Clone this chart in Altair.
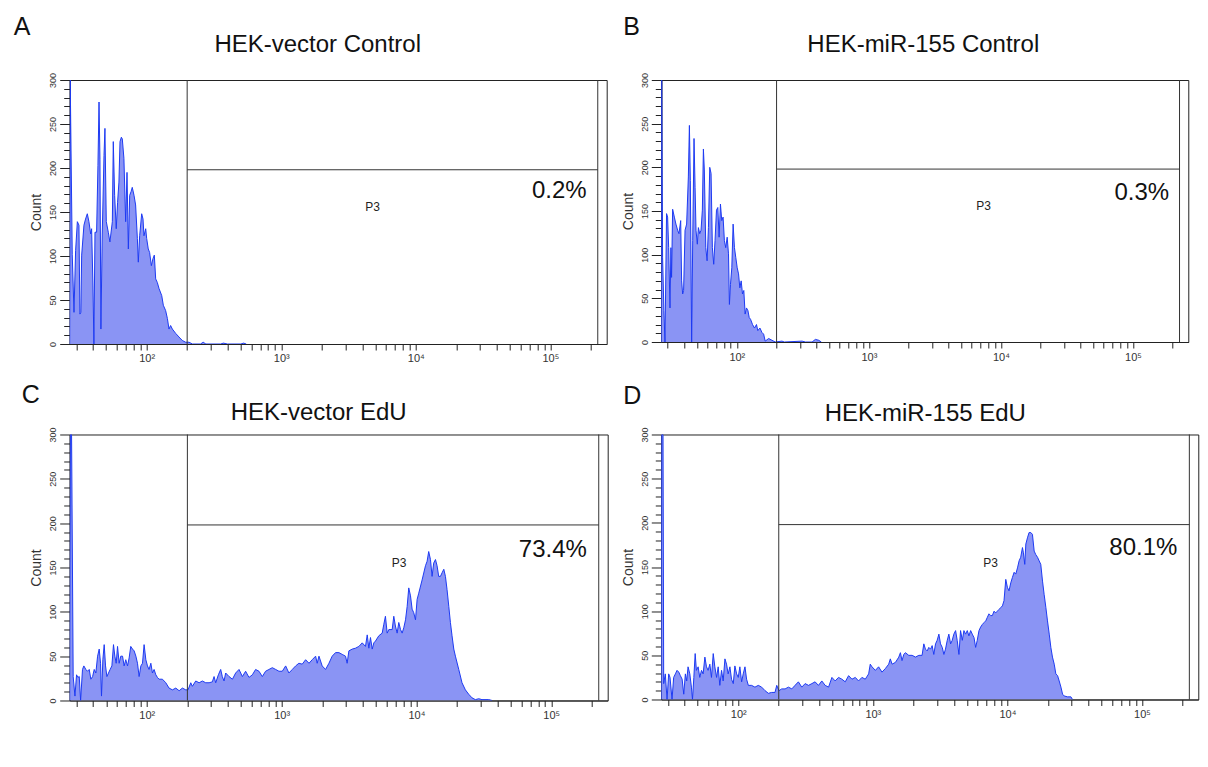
import altair as alt
import numpy as np
import pandas as pd

FONT = "Liberation Sans"
FILL = "#8a94f4"
LINE = "#1d3af2"
INK = "#222222"
GATE = "#333333"

TITLES = ["HEK-vector Control", "HEK-miR-155 Control", "HEK-vector EdU", "HEK-miR-155 EdU"]
LETTERS = ["A", "B", "C", "D"]
PERCENTS = ["0.2%", "0.3%", "73.4%", "80.1%"]
# label positions in data units (log10 intensity, count)
P3_LOG = [3.678, 3.868, 3.872, 3.875]
P3_COUNT = [151, 151, 150, 150]
PCT_LOG = [5.269, 5.273, 5.264, 5.263]
PCT_COUNT = [166, 163, 162, 164]

GATE_LOW = 200
GATE_HIGH = 225000
GATE_LEVEL = 198
X_MIN = 26.8
X_MAX = 262144

X_TICKS = [30, 40, 50, 60, 70, 80, 90,
           100, 200, 300, 400, 500, 600, 700, 800, 900,
           1000, 2000, 3000, 4000, 5000, 6000, 7000, 8000, 9000,
           10000, 20000, 30000, 40000, 50000, 60000, 70000, 80000, 90000,
           100000, 200000]
Y_TICKS = [0, 10, 20, 30, 40, 50, 60, 70, 80, 90, 100, 110, 120, 130, 140, 150,
           160, 170, 180, 190, 200, 210, 220, 230, 240, 250, 260, 270, 280, 290, 300]

# histograms: (log10 fluorescence, count)
A_HIST = [(1.428, 0), (1.432, 300), (1.447, 102), (1.460, 36), (1.472, 106), (1.485, 139),
          (1.497, 135), (1.504, 34), (1.511, 36), (1.517, 101), (1.534, 135), (1.546, 142),
          (1.559, 148), (1.571, 139), (1.584, 125), (1.591, 131), (1.601, 67), (1.608, 0),
          (1.616, 127), (1.628, 127), (1.638, 203), (1.646, 275), (1.653, 210), (1.660, 17),
          (1.670, 125), (1.683, 214), (1.690, 245), (1.700, 139), (1.715, 127), (1.727, 116),
          (1.745, 139), (1.752, 230), (1.762, 169), (1.774, 131), (1.784, 161), (1.794, 184),
          (1.802, 230), (1.812, 235), (1.819, 233), (1.831, 211), (1.844, 139), (1.854, 195),
          (1.864, 108), (1.874, 169), (1.884, 173), (1.893, 178), (1.906, 169), (1.918, 158),
          (1.931, 120), (1.938, 93), (1.948, 123), (1.963, 148), (1.973, 142), (1.980, 123),
          (1.993, 131), (2.000, 120), (2.012, 108), (2.022, 104), (2.035, 89), (2.047, 97),
          (2.057, 101), (2.067, 74), (2.079, 70), (2.092, 63), (2.112, 55), (2.124, 44),
          (2.141, 38), (2.154, 29), (2.166, 17), (2.178, 21), (2.191, 17), (2.216, 12),
          (2.240, 8), (2.265, 4), (2.290, 2), (2.315, 2), (2.340, 0), (2.400, 0), (2.420, 2),
          (2.440, 0), (2.550, 0), (2.570, 1), (2.600, 0), (2.700, 0), (2.720, 1), (2.740, 0)]

B_HIST = [(1.428, 0), (1.431, 300), (1.438, 97), (1.448, 36), (1.456, 0), (1.468, 147),
          (1.476, 143), (1.484, 108), (1.494, 39), (1.501, 108), (1.506, 74), (1.514, 152),
          (1.527, 143), (1.539, 135), (1.552, 128), (1.562, 124), (1.575, 139), (1.582, 70),
          (1.590, 55), (1.597, 59), (1.608, 128), (1.620, 135), (1.633, 189), (1.641, 248),
          (1.648, 185), (1.658, 0), (1.666, 116), (1.676, 233), (1.684, 177), (1.691, 128),
          (1.701, 112), (1.709, 131), (1.719, 124), (1.729, 128), (1.739, 151), (1.747, 221),
          (1.754, 197), (1.765, 108), (1.775, 93), (1.785, 131), (1.795, 200), (1.805, 193),
          (1.815, 108), (1.825, 89), (1.835, 116), (1.846, 151), (1.856, 154), (1.866, 120),
          (1.876, 158), (1.886, 139), (1.896, 143), (1.906, 116), (1.916, 108), (1.927, 120),
          (1.937, 101), (1.944, 43), (1.952, 66), (1.962, 85), (1.972, 135), (1.982, 108),
          (1.992, 97), (2.003, 85), (2.013, 78), (2.023, 62), (2.033, 70), (2.043, 55),
          (2.053, 59), (2.063, 32), (2.073, 39), (2.084, 36), (2.094, 28), (2.104, 26),
          (2.119, 20), (2.134, 16), (2.149, 20), (2.159, 13), (2.175, 16), (2.190, 11),
          (2.203, 9), (2.215, 1), (2.241, 4), (2.266, 2), (2.291, 0), (2.342, 1), (2.360, 0),
          (2.494, 1), (2.520, 0), (2.570, 0), (2.595, 3), (2.620, 2), (2.640, 0)]

C_HIST = [(1.428, 0), (1.433, 300), (1.442, 300), (1.454, 27), (1.467, 5), (1.479, 29),
          (1.489, 26), (1.499, 27), (1.509, 0), (1.523, 35), (1.533, 39), (1.548, 35),
          (1.560, 33), (1.573, 35), (1.585, 24), (1.598, 27), (1.610, 35), (1.622, 31),
          (1.635, 50), (1.647, 58), (1.657, 42), (1.664, 5), (1.674, 46), (1.684, 63),
          (1.694, 39), (1.704, 27), (1.716, 31), (1.728, 35), (1.741, 39), (1.753, 63),
          (1.763, 50), (1.773, 42), (1.783, 61), (1.795, 42), (1.807, 50), (1.820, 50),
          (1.832, 39), (1.844, 46), (1.857, 39), (1.869, 48), (1.881, 61), (1.894, 58),
          (1.906, 56), (1.919, 50), (1.931, 42), (1.943, 27), (1.956, 39), (1.968, 42),
          (1.980, 63), (1.993, 46), (2.005, 39), (2.017, 35), (2.030, 42), (2.042, 31),
          (2.054, 35), (2.067, 29), (2.079, 26), (2.091, 24), (2.116, 24), (2.141, 20),
          (2.165, 14), (2.190, 12), (2.215, 14), (2.240, 11), (2.264, 14), (2.289, 12),
          (2.306, 12), (2.326, 20), (2.338, 16), (2.363, 22), (2.388, 20), (2.412, 22),
          (2.437, 20), (2.462, 20), (2.486, 21), (2.499, 27), (2.511, 20), (2.531, 29),
          (2.548, 35), (2.560, 27), (2.573, 22), (2.585, 31), (2.610, 27), (2.635, 24),
          (2.659, 31), (2.684, 35), (2.709, 27), (2.733, 33), (2.758, 26), (2.783, 29),
          (2.807, 35), (2.832, 33), (2.857, 27), (2.881, 33), (2.906, 35), (2.931, 37),
          (2.956, 35), (2.980, 33), (3.005, 33), (3.030, 39), (3.054, 31), (3.079, 35),
          (3.104, 39), (3.128, 42), (3.153, 41), (3.178, 46), (3.203, 42), (3.227, 46),
          (3.252, 50), (3.264, 42), (3.277, 50), (3.301, 39), (3.326, 35), (3.351, 42),
          (3.375, 50), (3.400, 54), (3.425, 54), (3.449, 52), (3.474, 50), (3.486, 42),
          (3.499, 56), (3.524, 58), (3.548, 59), (3.573, 61), (3.598, 65), (3.622, 61),
          (3.635, 74), (3.647, 59), (3.659, 71), (3.672, 58), (3.684, 65), (3.696, 67),
          (3.721, 73), (3.746, 76), (3.758, 86), (3.770, 95), (3.783, 76), (3.795, 80),
          (3.820, 80), (3.832, 95), (3.844, 84), (3.857, 76), (3.869, 88), (3.882, 80),
          (3.894, 76), (3.906, 82), (3.919, 91), (3.931, 106), (3.943, 127), (3.956, 118),
          (3.968, 103), (3.980, 99), (3.993, 91), (4.005, 114), (4.017, 121), (4.042, 136),
          (4.067, 152), (4.079, 157), (4.091, 168), (4.104, 159), (4.116, 140), (4.128, 155),
          (4.141, 159), (4.153, 152), (4.165, 140), (4.178, 140), (4.190, 144), (4.203, 148),
          (4.215, 140), (4.227, 125), (4.240, 106), (4.252, 88), (4.264, 73), (4.277, 58),
          (4.289, 50), (4.314, 35), (4.338, 20), (4.363, 12), (4.388, 7), (4.412, 3),
          (4.437, 1), (4.462, 2), (4.486, 1), (4.536, 1), (4.561, 0)]

D_HIST = [(1.428, 0), (1.431, 300), (1.441, 300), (1.446, 18), (1.458, 29), (1.471, 0),
          (1.483, 29), (1.493, 25), (1.508, 0), (1.520, 25), (1.533, 29), (1.545, 33),
          (1.558, 31), (1.570, 27), (1.583, 23), (1.595, 6), (1.607, 29), (1.617, 21),
          (1.627, 37), (1.640, 29), (1.652, 14), (1.660, 0), (1.670, 25), (1.680, 52),
          (1.689, 33), (1.702, 37), (1.714, 25), (1.727, 33), (1.739, 29), (1.752, 48),
          (1.764, 37), (1.776, 33), (1.789, 40), (1.801, 25), (1.814, 52), (1.826, 37),
          (1.839, 25), (1.851, 37), (1.863, 16), (1.876, 33), (1.888, 21), (1.901, 46),
          (1.913, 40), (1.925, 29), (1.938, 37), (1.950, 23), (1.963, 18), (1.975, 38),
          (1.988, 29), (2.000, 25), (2.012, 37), (2.025, 20), (2.037, 29), (2.050, 37),
          (2.062, 23), (2.075, 16), (2.099, 16), (2.124, 14), (2.149, 16), (2.174, 14),
          (2.199, 10), (2.224, 7), (2.248, 8), (2.273, 8), (2.286, 16), (2.303, 10),
          (2.323, 12), (2.348, 12), (2.373, 14), (2.398, 12), (2.422, 16), (2.447, 20),
          (2.472, 14), (2.497, 18), (2.522, 16), (2.547, 18), (2.571, 20), (2.596, 16),
          (2.621, 21), (2.646, 16), (2.671, 14), (2.696, 25), (2.720, 21), (2.745, 25),
          (2.770, 23), (2.795, 20), (2.820, 27), (2.845, 23), (2.870, 25), (2.894, 21),
          (2.919, 25), (2.944, 23), (2.969, 29), (2.981, 40), (2.994, 37), (3.019, 33),
          (3.043, 37), (3.068, 31), (3.093, 35), (3.118, 40), (3.130, 46), (3.143, 40),
          (3.168, 42), (3.193, 48), (3.205, 53), (3.217, 44), (3.230, 51), (3.242, 53),
          (3.267, 50), (3.292, 50), (3.317, 48), (3.342, 50), (3.366, 50), (3.379, 63),
          (3.391, 57), (3.404, 55), (3.416, 59), (3.429, 57), (3.441, 61), (3.453, 51),
          (3.466, 63), (3.478, 67), (3.491, 74), (3.503, 63), (3.516, 59), (3.528, 51),
          (3.540, 57), (3.553, 67), (3.565, 74), (3.578, 63), (3.590, 67), (3.602, 74),
          (3.615, 78), (3.627, 67), (3.640, 51), (3.652, 78), (3.665, 67), (3.677, 78),
          (3.689, 74), (3.702, 78), (3.714, 72), (3.727, 78), (3.739, 74), (3.752, 70),
          (3.764, 59), (3.776, 67), (3.789, 78), (3.801, 82), (3.814, 85), (3.826, 87),
          (3.839, 89), (3.851, 93), (3.863, 97), (3.876, 95), (3.888, 95), (3.901, 100),
          (3.913, 98), (3.925, 100), (3.938, 102), (3.950, 104), (3.963, 106), (3.975, 112),
          (3.988, 136), (4.000, 127), (4.012, 123), (4.025, 132), (4.037, 138), (4.050, 144),
          (4.062, 142), (4.075, 149), (4.087, 157), (4.099, 161), (4.112, 172), (4.119, 166),
          (4.129, 153), (4.137, 176), (4.149, 183), (4.161, 189), (4.174, 189), (4.186, 187),
          (4.199, 168), (4.211, 164), (4.224, 161), (4.236, 157), (4.248, 153), (4.261, 134),
          (4.273, 119), (4.286, 104), (4.298, 89), (4.311, 74), (4.323, 59), (4.335, 48),
          (4.348, 40), (4.360, 29), (4.373, 27), (4.385, 21), (4.398, 14), (4.410, 6),
          (4.422, 4), (4.447, 3), (4.472, 3), (4.484, 0)]

HISTS = [A_HIST, B_HIST, C_HIST, D_HIST]

# layout (pixels, relative to each panel's plot area)
PANEL_W = [537, 527, 538, 537]
PANEL_H = [264, 262, 266, 265]
TITLE_X = [248, 262, 249, 264]
TITLE_Y = [-28, -28, -14, -13]
LETTER_X = [-56, -38, -48, -38]
LETTER_Y = [-45, -45, -31, -30]

X_LABELS = ("datum.value == 100 ? '10\u00b2' : datum.value == 1000 ? '10\u00b3' : "
            "datum.value == 10000 ? '10\u2074' : datum.value == 100000 ? '10\u2075' : ''")

x_axis = alt.Axis(values=X_TICKS, labelExpr=X_LABELS, title=None, grid=False,
                  tickSize=6, tickColor=INK, domainColor=INK, labelFont=FONT,
                  labelFontSize=11, labelColor="#333333", labelPadding=3,
                  labelFlush=False, labelOverlap=False)
y_axis = alt.Axis(values=Y_TICKS, labelExpr="datum.value % 50 === 0 ? datum.label : ''",
                  title="Count", titleFont=FONT, titleFontSize=14, titleFontWeight="normal",
                  titleColor="#333333", titlePadding=5, grid=False,
                  tickSize={"condition": {"test": "datum.value % 50 === 0", "value": 10}, "value": 6},
                  tickColor=INK, domainColor=INK, labelFont=FONT, labelFontSize=9,
                  labelColor="#333333", labelAngle=270, labelAlign="center",
                  labelBaseline="bottom", labelPadding=2, labelOverlap=False)


def panel(i):
    hist = pd.DataFrame(HISTS[i], columns=["log", "count"])
    hist["x"] = 10 ** hist["log"]
    xs = alt.Scale(type="log", domain=[X_MIN, X_MAX], nice=False)
    ys = alt.Scale(domain=[0, 300], nice=False, zero=True)
    xenc = alt.X("x:Q", scale=xs, axis=x_axis)
    yenc = alt.Y("count:Q", scale=ys, axis=y_axis)

    area = alt.Chart(hist).mark_area(
        color=FILL, fillOpacity=1, clip=True, interpolate="linear",
        line={"color": LINE, "strokeWidth": 1}
    ).encode(x=xenc, y=yenc)

    vlines = alt.Chart(pd.DataFrame({"x": [GATE_LOW, GATE_HIGH]})).mark_rule(
        color=GATE, strokeWidth=1).encode(x=xenc)
    hline = alt.Chart(pd.DataFrame({"x": [GATE_LOW], "x2": [GATE_HIGH],
                                    "count": [GATE_LEVEL]})).mark_rule(
        color=GATE, strokeWidth=1).encode(x=xenc, x2="x2:Q", y=yenc)

    p3 = alt.Chart(pd.DataFrame({"x": [10 ** P3_LOG[i]], "count": [P3_COUNT[i]],
                                 "t": ["P3"]})).mark_text(
        font=FONT, fontSize=12, color=INK, align="center", baseline="alphabetic"
    ).encode(x=xenc, y=yenc, text="t:N")

    pct = alt.Chart(pd.DataFrame({"x": [10 ** PCT_LOG[i]], "count": [PCT_COUNT[i]],
                                  "t": [PERCENTS[i]]})).mark_text(
        font=FONT, fontSize=24, color="#111111", align="right", baseline="alphabetic"
    ).encode(x=xenc, y=yenc, text="t:N")

    letter = alt.Chart(pd.DataFrame({"t": [LETTERS[i]]})).mark_text(
        font=FONT, fontSize=25, color="#111111", align="left", baseline="alphabetic"
    ).encode(x=alt.value(LETTER_X[i]), y=alt.value(LETTER_Y[i]), text="t:N")

    title = alt.Chart(pd.DataFrame({"t": [TITLES[i]]})).mark_text(
        font=FONT, fontSize=24, color="#111111", align="center", baseline="alphabetic"
    ).encode(x=alt.value(TITLE_X[i]), y=alt.value(TITLE_Y[i]), text="t:N")

    return alt.layer(area, vlines, hline, p3, pct, letter, title).properties(
        width=PANEL_W[i], height=PANEL_H[i])


chart = alt.concat(
    *[panel(i) for i in range(4)],
    columns=2,
    spacing={"row": 90.5, "column": 53.6},
    bounds="flush",
).properties(
    padding={"left": 12.7, "top": 14, "right": 0, "bottom": 0},
    background="white",
).configure_view(stroke=INK, strokeWidth=1)

chart.save("out.html", embed_options={"renderer": "svg", "actions": False})
